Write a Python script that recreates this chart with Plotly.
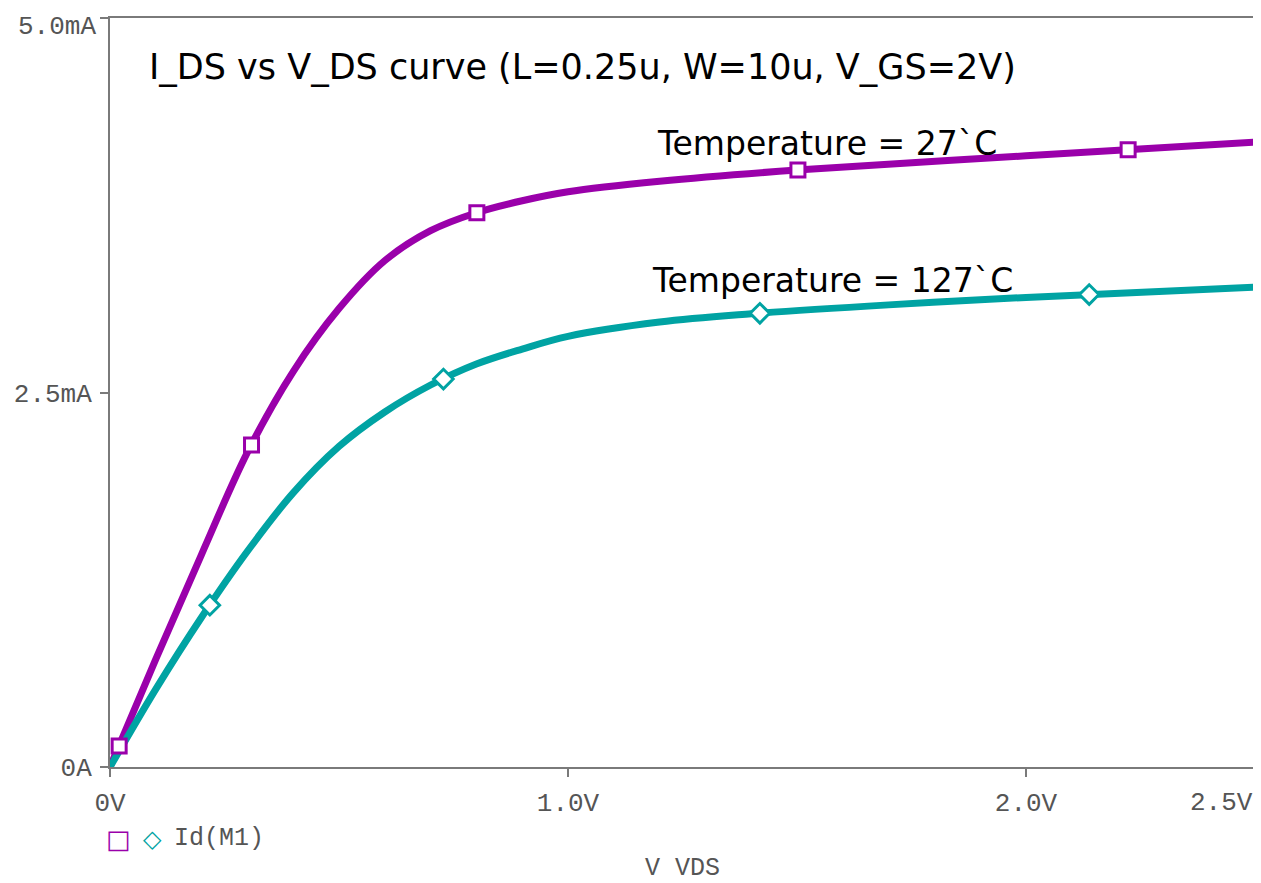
import plotly.graph_objects as go

# ---- data (V, mA) ----
vds_27 = [0, 0.1, 0.2, 0.3, 0.4, 0.5, 0.6, 0.7, 0.8, 0.9, 1.0, 1.2, 1.5, 2.0, 2.5]
ids_27 = [0, 0.72, 1.42, 2.10, 2.64, 3.06, 3.38, 3.58, 3.70, 3.78, 3.84, 3.91, 3.985, 4.08, 4.172]
mk_x_27 = [0.02, 0.309, 0.801, 1.502, 2.223]
mk_y_27 = [0.14, 2.15, 3.70, 3.985, 4.12]

vds_127 = [0, 0.1, 0.2, 0.3, 0.4, 0.5, 0.6, 0.7, 0.8, 0.9, 1.0, 1.2, 1.4, 1.7, 2.0, 2.5]
ids_127 = [0, 0.52, 1.00, 1.44, 1.83, 2.14, 2.37, 2.55, 2.69, 2.79, 2.875, 2.97, 3.025, 3.085, 3.135, 3.204]
mk_x_127 = [0.218, 0.728, 1.419, 2.138]
mk_y_127 = [1.08, 2.59, 3.029, 3.154]

x_tickvals = [0, 1.0, 2.0, 2.5]
x_ticktext = ["0V", "1.0V", "2.0V", ""]
x_end_label = "2.5V"
y_tickvals = [0, 2.5, 5.0]
y_ticktext = ["0A", "2.5mA", ""]
y_top_label = "5.0mA"

PURPLE = "#9A00AA"
TEAL = "#00A3A3"
AXIS = "#7a7a7a"
TICKC = "#555555"
MONO = "Liberation Mono"

fig = go.Figure()
fig.add_trace(go.Scatter(x=vds_27, y=ids_27, mode="lines",
                         line=dict(color=PURPLE, width=7, shape="spline", smoothing=1.0),
                         showlegend=False, cliponaxis=False))
fig.add_trace(go.Scatter(x=vds_127, y=ids_127, mode="lines",
                         line=dict(color=TEAL, width=7, shape="spline", smoothing=1.0),
                         showlegend=False, cliponaxis=False))
fig.add_trace(go.Scatter(x=mk_x_27, y=mk_y_27, mode="markers",
                         marker=dict(symbol="square", size=14, color="white",
                                     line=dict(color=PURPLE, width=3)),
                         showlegend=False, cliponaxis=False))
fig.add_trace(go.Scatter(x=mk_x_127, y=mk_y_127, mode="markers",
                         marker=dict(symbol="diamond", size=15, color="white",
                                     line=dict(color=TEAL, width=3)),
                         showlegend=False, cliponaxis=False))

annots = [
    dict(text="I_DS vs V_DS curve (L=0.25u, W=10u, V_GS=2V)", x=0.032, y=0.935,
         xanchor="left", yanchor="middle",
         font=dict(family="DejaVu Sans", size=35, color="black")),
    dict(text="Temperature = 27`C", x=0.476, y=0.833, xanchor="left", yanchor="middle",
         font=dict(family="DejaVu Sans", size=33, color="black")),
    dict(text="Temperature = 127`C", x=0.472, y=0.650, xanchor="left", yanchor="middle",
         font=dict(family="DejaVu Sans", size=33, color="black")),
    dict(text="□", x=0.0075, y=-0.096, xanchor="center", yanchor="middle",
         font=dict(family="DejaVu Sans", size=26, color=PURPLE)),
    dict(text="◇", x=0.037, y=-0.096, xanchor="center", yanchor="middle",
         font=dict(family="DejaVu Sans", size=24, color=TEAL)),
    dict(text="Id(M1)", x=0.0545, y=-0.096, xanchor="left", yanchor="middle",
         font=dict(family=MONO, size=25, color=TICKC)),
    dict(text="V VDS", x=0.5, y=-0.135, xanchor="center", yanchor="middle",
         font=dict(family=MONO, size=25, color=TICKC)),
    dict(text=y_top_label, x=0, y=1.0, xanchor="right", yanchor="top",
         xshift=-12, yshift=8,
         font=dict(family=MONO, size=26, color=TICKC)),
]
for a in annots:
    a.update(xref="paper", yref="paper", showarrow=False)
annots.append(dict(text=x_end_label, x=2.5, y=-0.048, xref="x", yref="paper",
                   xanchor="right", yanchor="middle", showarrow=False,
                   font=dict(family=MONO, size=26, color=TICKC)))

fig.update_layout(
    width=1253, height=875,
    margin=dict(l=102, r=6, t=10, b=116, autoexpand=False),
    paper_bgcolor="white", plot_bgcolor="white",
    annotations=annots,
    xaxis=dict(range=[0, 2.5], tickvals=x_tickvals, ticktext=x_ticktext,
               automargin=False,
               showgrid=False, zeroline=False, showline=True, linecolor=AXIS,
               linewidth=2, mirror=True, ticks="outside", ticklen=8, tickwidth=2,
               tickcolor=AXIS, ticklabelstandoff=3, ticklabeloverflow="allow",
               tickfont=dict(family=MONO, size=26, color=TICKC)),
    yaxis=dict(range=[0, 5.0], tickvals=y_tickvals, ticktext=y_ticktext,
               automargin=False,
               showgrid=False, zeroline=False, showline=True, linecolor=AXIS,
               linewidth=2, mirror=True, ticks="outside", ticklen=8, tickwidth=2,
               tickcolor=AXIS, ticklabelstandoff=3, ticklabeloverflow="allow",
               tickfont=dict(family=MONO, size=26, color=TICKC)),
)

fig.write_html("out.html")
